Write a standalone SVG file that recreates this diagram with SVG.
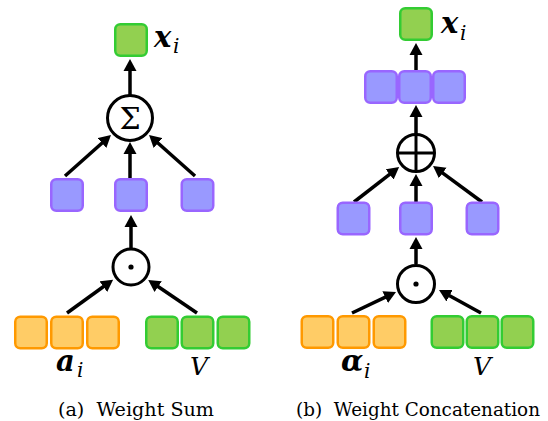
<svg xmlns="http://www.w3.org/2000/svg" width="548" height="421" viewBox="0 0 548 421">
<style>
.g{fill:#92d050;stroke:#33cc33;stroke-width:2.5}
.p{fill:#9999ff;stroke:#9966ff;stroke-width:2.5}
.o{fill:#ffcc66;stroke:#ff9900;stroke-width:2.5}
.op{fill:#ffffff;stroke:#000000;stroke-width:3}
.ln{stroke:#000000;stroke-width:3.5;fill:none;marker-end:url(#ah)}
text{font-family:"DejaVu Serif",serif;fill:#000}
.bi{font-weight:bold;font-style:italic;font-size:29px}
.it{font-style:italic}
.sub{font-style:italic;font-size:20px}
.cap{font-size:18.5px}
</style>
<defs>
<marker id="ah" markerUnits="userSpaceOnUse" markerWidth="14" markerHeight="14" refX="2" refY="7" orient="auto">
<path d="M0,0.5 L12,7 L0,13.5 z" fill="#000"/>
</marker>
</defs>
<rect width="548" height="421" fill="#ffffff"/>

<g id="connectors">
<line class="ln" x1="130" y1="96" x2="130" y2="69"/>
<line class="ln" x1="65" y1="176" x2="103.5" y2="141.7"/>
<line class="ln" x1="130" y1="178" x2="130" y2="152"/>
<line class="ln" x1="195" y1="176" x2="156.5" y2="141.7"/>
<line class="ln" x1="131" y1="249" x2="131" y2="225"/>
<line class="ln" x1="67" y1="313" x2="105" y2="285.5"/>
<line class="ln" x1="197" y1="313" x2="156.5" y2="285.5"/>
<line class="ln" x1="416" y1="70" x2="416" y2="53"/>
<line class="ln" x1="416" y1="134" x2="416" y2="115"/>
<line class="ln" x1="354" y1="202" x2="391.2" y2="173.2"/>
<line class="ln" x1="416" y1="202" x2="416" y2="184"/>
<line class="ln" x1="482" y1="202" x2="441.1" y2="171.9"/>
<line class="ln" x1="416" y1="264" x2="416" y2="247"/>
<line class="ln" x1="352" y1="313" x2="387" y2="296.3"/>
<line class="ln" x1="481" y1="313" x2="447.8" y2="294.8"/>
</g>

<g id="a_out">
<rect class="g" x="115.25" y="24.25" width="31.5" height="31.5" rx="5"/>
<text class="bi" x="154" y="46.5">x</text>
<text class="sub" x="173" y="53">i</text>
</g>
<g id="a_sum">
<circle class="op" cx="130" cy="118" r="22.5"/>
<text x="130" y="129" text-anchor="middle" font-size="30">Σ</text>
</g>
<g id="a_p1"><rect class="p" x="51.25" y="179.25" width="31.5" height="31.5" rx="5"/></g>
<g id="a_p2"><rect class="p" x="115.25" y="179.25" width="31.5" height="31.5" rx="5"/></g>
<g id="a_p3"><rect class="p" x="181.75" y="179.25" width="31.5" height="31.5" rx="5"/></g>
<g id="a_odot">
<circle class="op" cx="131" cy="267" r="18"/>
<circle cx="131" cy="267" r="2.6" fill="#000"/>
</g>
<g id="a_alpha">
<rect class="o" x="15.25" y="316.75" width="31.5" height="31.5" rx="5"/>
<rect class="o" x="51.25" y="316.75" width="31.5" height="31.5" rx="5"/>
<rect class="o" x="87.25" y="316.75" width="31.5" height="31.5" rx="5"/>
<text class="bi" x="56" y="371">a</text>
<text class="sub" x="77" y="377">i</text>
</g>
<g id="a_V">
<rect class="g" x="146.25" y="316.75" width="31.5" height="31.5" rx="5"/>
<rect class="g" x="181.75" y="316.75" width="31.5" height="31.5" rx="5"/>
<rect class="g" x="217.75" y="316.75" width="31.5" height="31.5" rx="5"/>
<text class="it" x="190" y="375" font-size="25">V</text>
</g>
<text class="cap" x="58" y="416" textLength="156" lengthAdjust="spacingAndGlyphs" xml:space="preserve">(a)  Weight Sum</text>

<g id="b_out">
<rect class="g" x="400.25" y="8.25" width="31.5" height="31.5" rx="5"/>
<text class="bi" x="441" y="32.5">x</text>
<text class="sub" x="460" y="40">i</text>
</g>
<g id="b_cat">
<rect class="p" x="365.25" y="71.25" width="31.5" height="31.5" rx="5"/>
<rect class="p" x="399.25" y="71.25" width="31.5" height="31.5" rx="5"/>
<rect class="p" x="433.25" y="71.25" width="31.5" height="31.5" rx="5"/>
</g>
<g id="b_oplus">
<circle class="op" cx="416" cy="153" r="18.5"/>
<line x1="397.5" y1="153" x2="434.5" y2="153" stroke="#000" stroke-width="3"/>
<line x1="416" y1="134.5" x2="416" y2="171.5" stroke="#000" stroke-width="3"/>
</g>
<g id="b_p1"><rect class="p" x="337.75" y="202.75" width="31.5" height="31.5" rx="5"/></g>
<g id="b_p2"><rect class="p" x="400.25" y="202.75" width="31.5" height="31.5" rx="5"/></g>
<g id="b_p3"><rect class="p" x="466.75" y="202.75" width="31.5" height="31.5" rx="5"/></g>
<g id="b_odot">
<circle class="op" cx="416" cy="284" r="18.5"/>
<circle cx="416" cy="284" r="2.6" fill="#000"/>
</g>
<g id="b_alpha">
<rect class="o" x="301.75" y="316.25" width="31.5" height="31.5" rx="5"/>
<rect class="o" x="337.75" y="316.25" width="31.5" height="31.5" rx="5"/>
<rect class="o" x="373.75" y="316.25" width="31.5" height="31.5" rx="5"/>
<text class="bi" x="341" y="371">α</text>
<text class="sub" x="364" y="378">i</text>
</g>
<g id="b_V">
<rect class="g" x="431.75" y="316.25" width="31.5" height="31.5" rx="5"/>
<rect class="g" x="466.75" y="316.25" width="31.5" height="31.5" rx="5"/>
<rect class="g" x="501.75" y="316.25" width="31.5" height="31.5" rx="5"/>
<text class="it" x="473" y="375" font-size="25">V</text>
</g>
<text class="cap" x="296" y="416" textLength="244" lengthAdjust="spacingAndGlyphs" xml:space="preserve">(b)  Weight Concatenation</text>
</svg>
